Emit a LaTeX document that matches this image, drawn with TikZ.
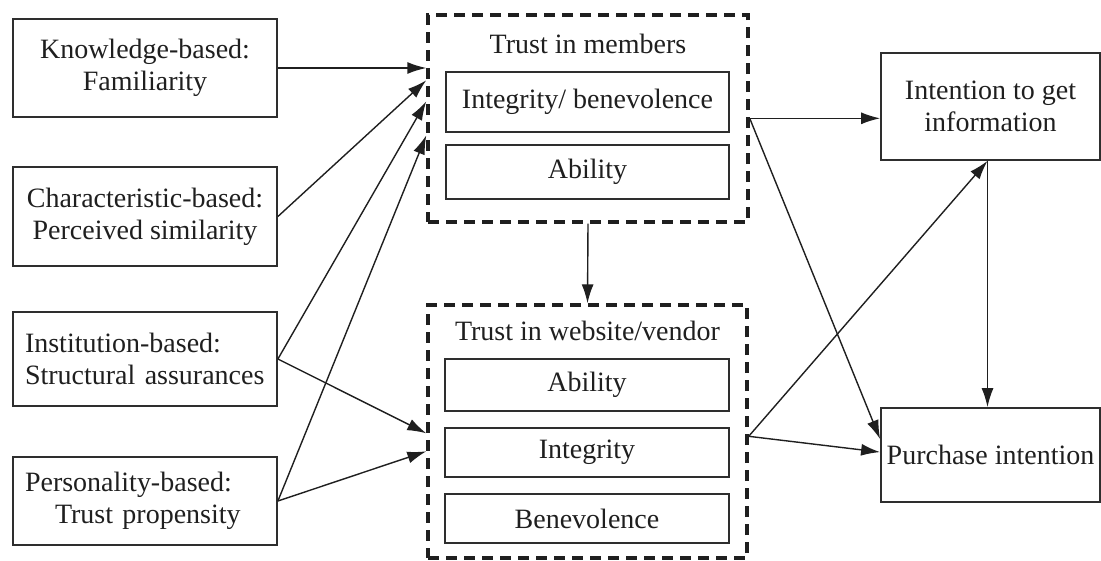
\documentclass[tikz,border=0pt]{standalone}
\usepackage{fontspec}
\setmainfont{Liberation Serif}
\usetikzlibrary{arrows.meta,calc}
\begin{document}
\begin{tikzpicture}[x=1pt,y=-1pt,
  every node/.style={font=\fontsize{28}{32}\selectfont, text=black!88},
  box/.style={draw=black!82, line width=1.8pt, inner sep=0pt, align=center},
  group/.style={draw=black!88, line width=3.4pt, dash pattern=on 11pt off 7pt, inner sep=0pt},
  conn/.style={draw=black!88, line width=1.4pt, -{Latex[length=19pt,width=12pt]}},
  title/.style={anchor=base, inner sep=0pt}]
\useasboundingbox (0,0) rectangle (1101,560);

% left boxes
\node[box, minimum width=264pt, minimum height=98pt] (k1) at (145,68) {Knowledge-based:\\Familiarity};
\node[box, minimum width=264pt, minimum height=99pt] (c2) at (145,216.5) {Characteristic-based:\\Perceived similarity};
\node[box, minimum width=264pt, minimum height=94pt, text width=240pt, align=left] (i3) at (145,359) {Institution-based:\\Structural assurances};
\node[box, minimum width=264pt, minimum height=88pt, text width=240pt, align=left] (p4) at (145,501) {Personality-based:\\\hspace*{30pt}Trust propensity};

% trust in members
\node[group, minimum width=320pt, minimum height=207pt] (tm) at (588,118.5) {};
\node[title] (tmt) at (588,53) {Trust in members};
\node[box, minimum width=283pt, minimum height=60pt] (tma) at (587.5,102) {Integrity/ benevolence};
\node[box, minimum width=283pt, minimum height=54pt] (tmb) at (587.5,172) {Ability};

% trust in website/vendor
\node[group, minimum width=319pt, minimum height=253pt] (tw) at (587.5,431.5) {};
\node[title] (twt) at (587.5,340) {Trust in website/vendor};
\node[box, minimum width=284pt, minimum height=52pt] (twa) at (587,385) {Ability};
\node[box, minimum width=284pt, minimum height=49pt] (twb) at (587,452.5) {Integrity};
\node[box, minimum width=284pt, minimum height=49pt] (twc) at (587,518.5) {Benevolence};

% right boxes
\node[box, minimum width=219pt, minimum height=107pt] (ii) at (990.5,106.5) {Intention to get\\information};
\node[box, minimum width=219pt, minimum height=94pt] (pi) at (990.5,455) {Purchase intention};

% anchor points on the group borders
\coordinate (tmw1) at ($(tm.north west)+(0,67)$);
\coordinate (tmw2) at ($(tm.north west)+(0,88)$);
\coordinate (tmw3) at ($(tm.north west)+(0,122)$);
\coordinate (tme) at ($(tm.north east)+(0,105)$);
\coordinate (tww1) at ($(tw.north west)+(0,130)$);
\coordinate (tww2) at ($(tw.north west)+(0,148)$);
\coordinate (twe) at ($(tw.north east)+(0,133)$);
\coordinate (piw1) at ($(pi.north west)+(0,32)$);
\coordinate (piw2) at ($(pi.north west)+(0,45)$);
\coordinate (iis) at ($(ii.south)+(-3,0)$);
\coordinate (pin) at ($(pi.north)+(-3,0)$);

% connectors
\draw[conn] (k1.east) -- (k1.east -| tm.west);
\draw[conn] (c2.east) -- (tmw1);
\draw[conn] (i3.east) -- (tmw2);
\draw[conn] (p4.east) -- (tmw3);
\draw[conn] (i3.east) -- (tww1);
\draw[conn] (p4.east) -- (tww2);
\draw[conn] (tm.south) -- (tw.north);
\draw[conn] (tme) -- (tme -| ii.west);
\draw[conn] (tme) -- (piw1);
\draw[conn] (twe) -- (iis);
\draw[conn] (twe) -- (piw2);
\draw[conn] (iis) -- (pin);
\end{tikzpicture}
\end{document}
